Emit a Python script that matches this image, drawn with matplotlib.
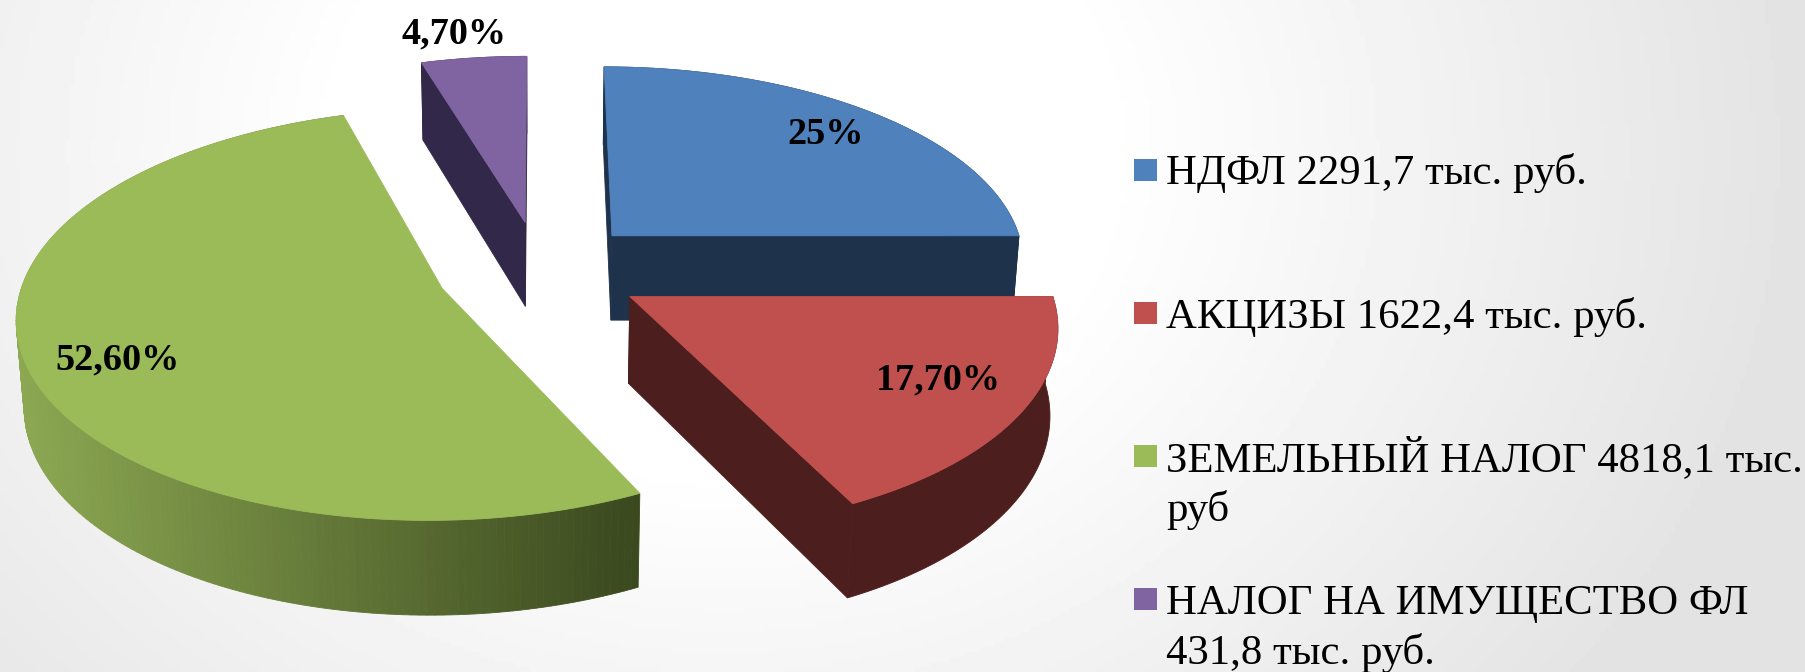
import numpy as np
import matplotlib
matplotlib.use('Agg')
import matplotlib.pyplot as plt
from matplotlib.colors import to_rgb

plt.rcParams['font.family'] = ['Liberation Serif', 'DejaVu Serif']

# data
shares = [25, 17.7, 52.6, 4.7]
share_labels = ['25%', '17,70%', '52,60%', '4,70%']
legend_labels = ['НДФЛ 2291,7 тыс. руб.',
                 'АКЦИЗЫ 1622,4 тыс. руб.',
                 'ЗЕМЕЛЬНЫЙ НАЛОГ 4818,1 тыс.\nруб',
                 'НАЛОГ НА ИМУЩЕСТВО ФЛ\n431,8 тыс. руб.']

top_colors = ['#4F81BD', '#C0504D', '#9BBB59', '#8064A2']
wall_colors = ['#1E324C', '#4D1E1E', None, '#32284A']
green_wall_left = '#8CA852'
green_wall_right = '#3A481E'

# pie geometry in pixels, the disc is seen in perspective
cx, cy = 540, 270
rx, ry = 416, 198
depth = 87
persp = 0.125
shrink = 0.015
explode = 0.25

label_xy = [(826, 134), (938, 380), (118, 360), (454, 34)]
legend_y = [170, 313, 456, 599]
legend_base = [184, 328, 471, 614]


def project(X, Y, z=0.0):
    w = 1 + persp * Y + shrink * z
    return cx + rx * X / w, cy + (-ry * Y + depth * z) / w


def poly(ax, xs, ys, color, zorder):
    ax.fill(xs, ys, color=color, lw=0.6, zorder=zorder)


fig = plt.figure(figsize=(18.05, 6.72), dpi=100)
ax = fig.add_axes([0, 0, 1, 1])
ax.set_xlim(0, 1805)
ax.set_ylim(672, 0)
ax.axis('off')

# background, soft grey towards the edges
gx, gy = np.meshgrid(np.arange(0, 1805, 5), np.arange(0, 672, 5))
dist = np.hypot((gx - 720) / 1085, (gy - 150) / 900)
grey = 1 - 0.11 * np.clip((dist - 0.35) / 0.65, 0, 1)
ax.imshow(grey, cmap='gray', vmin=0, vmax=1, extent=[0, 1805, 672, 0], aspect='auto', zorder=0)

# cumulative angles, clockwise from 12 o'clock
edges = np.radians(np.r_[0, np.cumsum(shares)] * 3.6)

# draw order back to front
for n, i in enumerate([2, 3, 0, 1]):
    a0, a1 = edges[i], edges[i + 1]
    mid = (a0 + a1) / 2
    ox, oy = explode * np.sin(mid), explode * np.cos(mid)
    t = np.linspace(a0, a1, 200)
    ax_arc = ox + np.sin(t)
    ay_arc = oy + np.cos(t)
    z0 = 10 + n * 3

    tx, ty = project(ax_arc, ay_arc, 0)
    bx, by = project(ax_arc, ay_arc, 1)
    ax0, ay0 = project(ox, oy, 0)
    bx0, by0 = project(ox, oy, 1)

    # outer wall
    if wall_colors[i] is None:
        left = np.array(to_rgb(green_wall_left))
        right = np.array(to_rgb(green_wall_right))
        for j in range(len(t) - 1):
            mx = (bx[j] + bx[j + 1]) / 2
            f = np.clip((mx - bx.min()) / (bx.max() - bx.min()), 0, 1)
            c = left * (1 - f) + right * f
            poly(ax, [tx[j], tx[j + 1], bx[j + 1], bx[j]],
                 [ty[j], ty[j + 1], by[j + 1], by[j]], c, z0)
    else:
        poly(ax, np.r_[tx, bx[::-1]], np.r_[ty, by[::-1]], wall_colors[i], z0)
        # cut walls
        for e in [0, -1]:
            poly(ax, [ax0, tx[e], bx[e], bx0], [ay0, ty[e], by[e], by0], wall_colors[i], z0)

    # top face
    poly(ax, np.r_[ax0, tx], np.r_[ay0, ty], top_colors[i], z0 + 1)

# share labels
for i, lab in enumerate(share_labels):
    ax.text(label_xy[i][0], label_xy[i][1], lab, fontsize=27.5, fontweight='bold',
            ha='center', va='center', color='black', zorder=30)

# legend
for i, lab in enumerate(legend_labels):
    ax.add_patch(plt.Rectangle((1134, legend_y[i] - 11), 23, 22, color=top_colors[i], lw=0, zorder=30))
    lines = lab.split('\n')
    for j, line in enumerate(lines):
        ax.text(1166, legend_base[i] + j * 50, line, fontsize=30.8, ha='left', va='baseline',
                color='black', zorder=30)

fig.savefig('out.png', dpi=100)
